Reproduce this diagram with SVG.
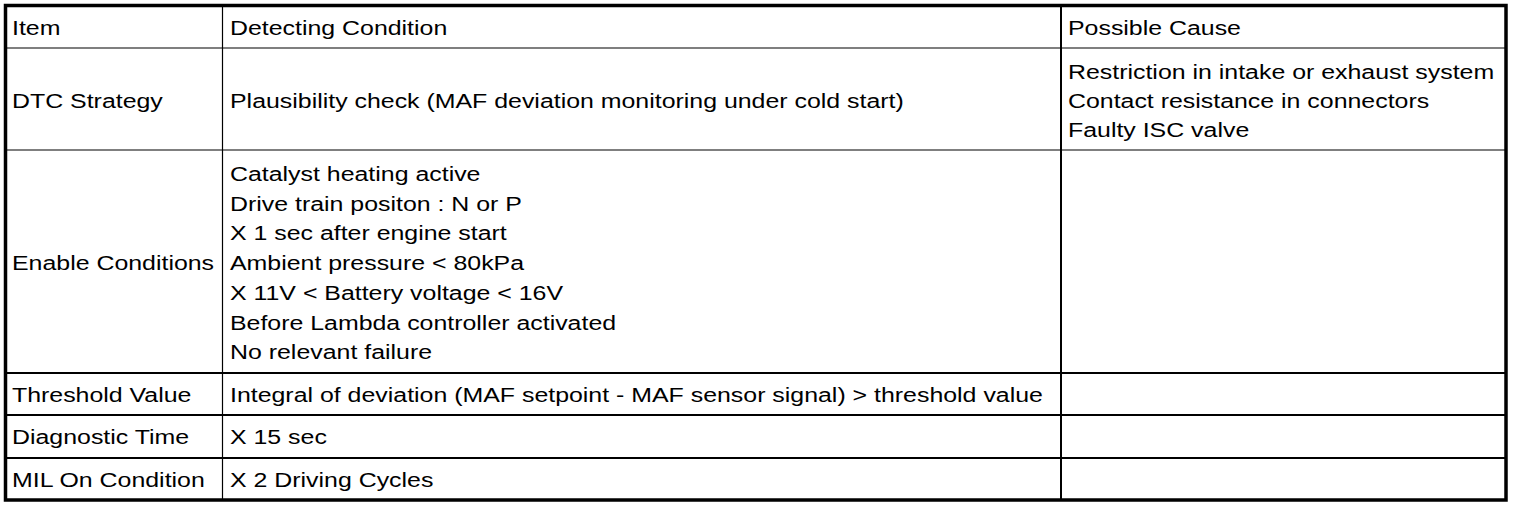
<svg xmlns="http://www.w3.org/2000/svg" width="1520" height="508" viewBox="0 0 1520 508">
<style>
text{font-family:"Liberation Sans",Arial,sans-serif;font-size:20px;fill:#000}
.thin{stroke:#000;stroke-width:1.2;fill:none}
.mid{stroke:#000;stroke-width:2;fill:none}
.border{stroke:#000;stroke-width:3.5;fill:none}
</style>
<rect x="0" y="0" width="1520" height="508" fill="#fff"/>
<g id="grid">
<line class="thin" x1="6" y1="48" x2="1506" y2="48"/>
<line class="thin" x1="6" y1="150" x2="1506" y2="150"/>
<line class="mid" x1="6" y1="373" x2="1506" y2="373"/>
<line class="mid" x1="6" y1="415" x2="1506" y2="415"/>
<line class="mid" x1="6" y1="458" x2="1506" y2="458"/>
<line class="thin" x1="222.5" y1="6" x2="222.5" y2="500"/>
<line class="mid" x1="1061" y1="6" x2="1061" y2="500"/>
<rect class="border" x="5.5" y="5.5" width="1500.5" height="494.5"/>
</g>
<g transform="scale(1.245,1)">
<g id="header">
<text x="9.64" y="35">Item</text>
<text x="184.74" y="35">Detecting Condition</text>
<text x="857.83" y="35">Possible Cause</text>
</g>
<g id="row-dtc">
<text x="9.64" y="108">DTC Strategy</text>
<text x="184.74" y="108">Plausibility check (MAF deviation monitoring under cold start)</text>
<text x="857.83" y="79">Restriction in intake or exhaust system</text>
<text x="857.83" y="108">Contact resistance in connectors</text>
<text x="857.83" y="137">Faulty ISC valve</text>
</g>
<g id="row-enable">
<text x="9.64" y="270">Enable Conditions</text>
<text x="184.74" y="181">Catalyst heating active</text>
<text x="184.74" y="211">Drive train positon : N or P</text>
<text x="184.74" y="240">X 1 sec after engine start</text>
<text x="184.74" y="270">Ambient pressure &lt; 80kPa</text>
<text x="184.74" y="300">X 11V &lt; Battery voltage &lt; 16V</text>
<text x="184.74" y="330">Before Lambda controller activated</text>
<text x="184.74" y="359">No relevant failure</text>
</g>
<g id="row-threshold">
<text x="9.64" y="402">Threshold Value</text>
<text x="184.74" y="402">Integral of deviation (MAF setpoint - MAF sensor signal) &gt; threshold value</text>
</g>
<g id="row-diag">
<text x="9.64" y="444">Diagnostic Time</text>
<text x="184.74" y="444">X 15 sec</text>
</g>
<g id="row-mil">
<text x="9.64" y="487">MIL On Condition</text>
<text x="184.74" y="487">X 2 Driving Cycles</text>
</g>
</g>
</svg>
